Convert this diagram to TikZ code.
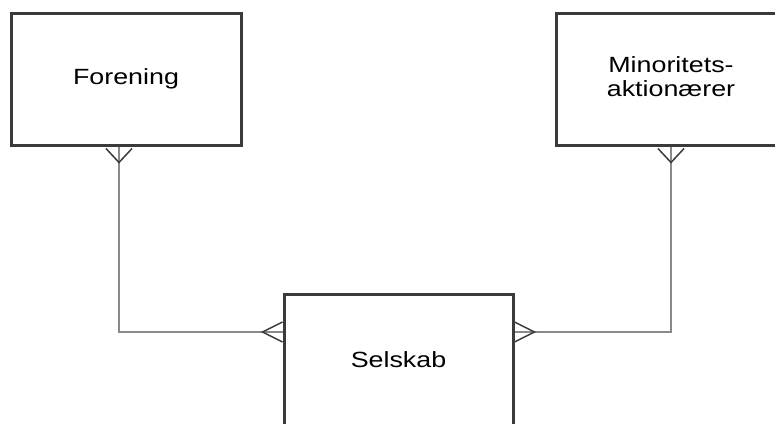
\documentclass[tikz,border=0pt]{standalone}
\usepackage{fontspec}
\setmainfont{Liberation Sans}
\usepackage{graphicx}
\usepackage{tikz}
\newcommand{\boxwidth}{230pt}
\newcommand{\boxheight}{132pt}
\newcommand{\wide}[1]{\scalebox{1.22}[1]{#1}}
\definecolor{edgeGray}{RGB}{58,58,58}
\definecolor{lineGray}{RGB}{138,138,138}
\usetikzlibrary{calc,positioning}
\tikzset{
  font=\fontsize{22}{26}\selectfont,
  rect/.style={draw=edgeGray,fill=white,line width=3pt,shape=rectangle,minimum width=\boxwidth,minimum height=\boxheight,inner sep=0},
  line/.style={draw=lineGray,line width=2pt},
  foot/.style={draw=edgeGray,line width=1.5pt},
}
\begin{document}
\begin{tikzpicture}[x=1pt,y=-1pt]
  \useasboundingbox (0,0) rectangle (775,423);
  \node (forening) [rect] at (126,79) {\wide{Forening}};
  \node (minoritet) [rect] at (671,79) {\wide{\begin{tabular}{@{}c@{}}Minoritets-\\[-2pt]aktionærer\end{tabular}}};
  \node (selskab) [rect,minimum width=229pt] at (398.5,360) {\wide{Selskab}};
  \coordinate (fa) at ($(forening.south)+(-7,0)$);
  \coordinate (ma) at (minoritet.south);
  \coordinate (sl) at ($(selskab.west)+(0,-28)$);
  \coordinate (sr) at ($(selskab.east)+(0,-28)$);
  \path [line] (fa) |- (sl);
  \path [line] (ma) |- (sr);
  % crow's feet
  \draw [foot] ($(fa)+(-13,2)$) -- ($(fa)+(0,16)$) -- ($(fa)+(13,2)$);
  \draw [foot] ($(ma)+(-13,2)$) -- ($(ma)+(0,16)$) -- ($(ma)+(13,2)$);
  \draw [foot] ($(sl)+(0,-10)$) -- ($(sl)+(-20,0)$) -- ($(sl)+(0,10)$);
  \draw [foot] ($(sr)+(0,-10)$) -- ($(sr)+(20,0)$) -- ($(sr)+(0,10)$);
\end{tikzpicture}
\end{document}
